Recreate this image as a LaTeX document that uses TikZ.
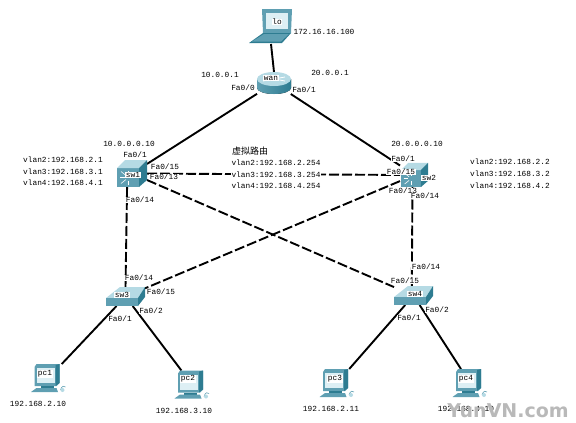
\documentclass[tikz,border=0pt]{standalone}
\usepackage{fontspec}
\newfontfamily\lblfont{Liberation Mono}
\newfontfamily\cjkfont{Noto Sans CJK SC}
\newfontfamily\wmfont{DejaVu Sans}
\definecolor{iconmid}{HTML}{5F9FB2}
\definecolor{icondark}{HTML}{2E7C91}
\definecolor{iconlight}{HTML}{B5DAE4}
\definecolor{iconpale}{HTML}{DDEFF4}
\tikzset{
    lbl/.style={font=\lblfont\fontsize{7.8}{9}\selectfont, fill=white, inner sep=0.6pt},
    cjklbl/.style={font=\cjkfont\fontsize{9}{10}\selectfont, fill=white, inner sep=0.6pt},
    devbox/.style={inner sep=0pt, outer sep=0pt},
    uplink/.style={line width=1.9pt, black},
    trunk/.style={line width=1.9pt, black, dash pattern=on 10pt off 3pt},
}
\newcommand{\laptopicon}[1]{
    \begin{scope}[shift={(#1)}]
        \fill[iconmid] (-9, -17) -- (21, -17) -- (20, 7) -- (-8, 7) -- cycle;
        \fill[iconpale] (-5, -13) rectangle (17, 3);
        \fill[icondark] (-8, 7) -- (20, 7) -- (11, 17) -- (-22, 17) -- cycle;
        \fill[iconmid] (-7, 8) -- (18, 8) -- (10, 15.5) -- (-19, 15.5) -- cycle;
    \end{scope}
}
\newcommand{\routericon}[1]{
    \begin{scope}[shift={(#1)}]
        \fill[left color=iconmid, middle color=iconpale, right color=icondark] (-17, -4) -- (-17, 5) arc (180:0:17 and 6) -- (17, -4) -- cycle;
        \fill[iconlight] (0, -4) ellipse (17 and 7);
        \draw[white, line width=0.8pt] (-11, -6) -- (11, -2);
        \draw[white, line width=0.8pt] (-11, -2) -- (11, -6);
    \end{scope}
}
\newcommand{\coreicon}[2]{
    \begin{scope}[shift={(#1)}, scale=#2]
        \fill[iconmid] (-15, -5.5) rectangle (7, 13.5);
        \fill[iconlight] (-15, -5.5) -- (-7, -13.5) -- (15, -13.5) -- (7, -5.5) -- cycle;
        \fill[icondark] (7, -5.5) -- (15, -13.5) -- (15, 6.5) -- (7, 13.5) -- cycle;
        \draw[white, line width=0.6pt] (-12, 4) -- (-7, 4);
        \draw[white, line width=0.6pt] (-11, -2) -- (-6, 2);
        \draw[white, line width=0.6pt] (-11, 10) -- (-6, 6);
        \draw[white, line width=0.6pt] (-4, -3) -- (-4, 1);
        \draw[white, line width=0.6pt] (-4, 7) -- (-4, 11);
    \end{scope}
}
\newcommand{\flaticon}[1]{
    \begin{scope}[shift={(#1)}]
        \fill[iconlight] (-19.5, 1.5) -- (-5.5, -9.5) -- (19.5, -9.5) -- (12.5, 1.5) -- cycle;
        \fill[iconmid] (-19.5, 1.5) rectangle (12.5, 9.5);
        \fill[icondark] (12.5, 1.5) -- (19.5, -9.5) -- (19.5, 0.5) -- (12.5, 9.5) -- cycle;
    \end{scope}
}
\newcommand{\pcicon}[1]{
    \begin{scope}[shift={(#1)}]
        \fill[iconmid] (-14, -11) -- (-12, -14) -- (11, -14) -- (11, 5) -- (8, 8) -- (-14, 8) -- cycle;
        \fill[icondark] (7, -13) -- (11, -14) -- (11, 5) -- (7, 8) -- cycle;
        \fill[iconpale] (-12, -10) rectangle (6, 5);
        \fill[icondark] (-8, 8) rectangle (5, 10);
        \fill[iconmid] (-12, 10) -- (8, 10) -- (9.5, 14) -- (-17.5, 14) -- cycle;
        \draw[iconmid, line width=0.6pt] (12, 12) .. controls (13, 8) and (16, 7) .. (17, 9);
        \fill[iconlight] (14, 12) ellipse (2 and 2);
    \end{scope}
}
\begin{document}
\begin{tikzpicture}[x=1pt, y=-1pt]
    \useasboundingbox (0, 0) rectangle (576, 423);

    % 设备
    \node[devbox, minimum width=44pt, minimum height=36pt] (lo) at (271, 26) {};
    \node[devbox, minimum width=34pt, minimum height=22pt] (wan) at (274, 83) {};
    \node[devbox, minimum width=30pt, minimum height=27pt] (sw1) at (132, 173.5) {};
    \node[devbox, minimum width=29pt, minimum height=23pt] (sw2) at (414.5, 175) {};
    \node[devbox, minimum width=39pt, minimum height=19pt] (sw3) at (125.5, 296.5) {};
    \node[devbox, minimum width=39pt, minimum height=19pt] (sw4) at (413.5, 295.5) {};
    \node[devbox, minimum width=35pt, minimum height=28pt] (pc1) at (48.5, 378) {};
    \node[devbox, minimum width=35pt, minimum height=28pt] (pc2) at (192, 384.5) {};
    \node[devbox, minimum width=35pt, minimum height=28pt] (pc3) at (337, 383) {};
    \node[devbox, minimum width=35pt, minimum height=28pt] (pc4) at (470, 383) {};

    % 连线
    \draw[uplink] (lo.south) -- (wan.north);
    \draw[uplink] (wan) -- (sw1);
    \draw[uplink] (wan) -- (sw2);
    \draw[uplink] (sw3) -- (pc1);
    \draw[uplink] (sw3) -- (pc2);
    \draw[uplink] (sw4) -- (pc3);
    \draw[uplink] (sw4) -- (pc4);
    \draw[trunk] (sw1) -- (sw2);
    \draw[trunk] (sw1) -- (sw4);
    \draw[trunk] (sw2) -- (sw3);
    \draw[trunk] (sw1.250) -- (sw3.north);
    \draw[trunk] (sw2.260) -- (sw4.100);

    % 图标
    \laptopicon{lo}
    \routericon{wan}
    \coreicon{sw1}{1}
    \coreicon{sw2}{0.9}
    \flaticon{sw3}
    \flaticon{sw4}
    \pcicon{pc1}
    \pcicon{pc2}
    \pcicon{pc3}
    \pcicon{pc4}

    % 设备名
    \node[lbl] (namelo) at (277, 22) {lo};
    \node[lbl] (namewan) at (271, 78) {wan};
    \node[lbl] (namesw1) at (133, 175) {sw1};
    \node[lbl] (namesw2) at (429, 178) {sw2};
    \node[lbl] (namesw3) at (122, 295) {sw3};
    \node[lbl] (namesw4) at (415, 294) {sw4};
    \node[lbl] (namepc1) at (45, 374) {pc1};
    \node[lbl] (namepc2) at (188, 379) {pc2};
    \node[lbl] (namepc3) at (335, 379) {pc3};
    \node[lbl] (namepc4) at (466, 379) {pc4};

    % 地址
    \node[lbl] (iplo) at (324, 32) {172.16.16.100};
    \node[lbl] (ipwanl) at (220, 75) {10.0.0.1};
    \node[lbl] (ipwanr) at (330, 73) {20.0.0.1};
    \node[lbl] (ipswl) at (129, 144) {10.0.0.0.10};
    \node[lbl] (ipswr) at (417, 144) {20.0.0.0.10};
    \node[lbl] (ippc1) at (38, 404) {192.168.2.10};
    \node[lbl] (ippc2) at (184, 411) {192.168.3.10};
    \node[lbl] (ippc3) at (331, 409) {192.168.2.11};
    \node[lbl] (ippc4) at (466, 409) {192.168.4.10};

    % vlan
    \node[lbl] (sw1v2) at (63, 160) {vlan2:192.168.2.1};
    \node[lbl] (sw1v3) at (63, 172) {vlan3:192.168.3.1};
    \node[lbl] (sw1v4) at (63, 183) {vlan4:192.168.4.1};
    \node[lbl] (sw2v2) at (510, 162) {vlan2:192.168.2.2};
    \node[lbl] (sw2v3) at (510, 174) {vlan3:192.168.3.2};
    \node[lbl] (sw2v4) at (510, 186) {vlan4:192.168.4.2};
    \node[cjklbl] (vrtitle) at (250, 151) {虚拟路由};
    \node[lbl] (vrv2) at (276, 163) {vlan2:192.168.2.254};
    \node[lbl] (vrv3) at (276, 175) {vlan3:192.168.3.254};
    \node[lbl] (vrv4) at (276, 186) {vlan4:192.168.4.254};

    % 端口
    \node[lbl] (wanp0) at (243, 88) {Fa0/0};
    \node[lbl] (wanp1) at (304, 90) {Fa0/1};
    \node[lbl] (sw1p1) at (135, 155) {Fa0/1};
    \node[lbl] (sw1p15) at (165, 167) {Fa0/15};
    \node[lbl] (sw1p13) at (164, 177) {Fa0/13};
    \node[lbl] (sw1p14) at (140, 200) {Fa0/14};
    \node[lbl] (sw2p1) at (403, 159) {Fa0/1};
    \node[lbl] (sw2p15) at (401, 172) {Fa0/15};
    \node[lbl] (sw2p13) at (403, 191) {Fa0/13};
    \node[lbl] (sw2p14) at (425, 196) {Fa0/14};
    \node[lbl] (sw3p14) at (139, 278) {Fa0/14};
    \node[lbl] (sw3p15) at (161, 292) {Fa0/15};
    \node[lbl] (sw3p1) at (120, 319) {Fa0/1};
    \node[lbl] (sw3p2) at (151, 311) {Fa0/2};
    \node[lbl] (sw4p14) at (426, 267) {Fa0/14};
    \node[lbl] (sw4p15) at (405, 281) {Fa0/15};
    \node[lbl] (sw4p1) at (409, 318) {Fa0/1};
    \node[lbl] (sw4p2) at (437, 310) {Fa0/2};

    % 水印
    \node[font=\wmfont\bfseries\fontsize{19}{20}\selectfont, gray!55, inner sep=0pt] (watermark) at (508, 411) {YunVN.com};
\end{tikzpicture}
\end{document}
